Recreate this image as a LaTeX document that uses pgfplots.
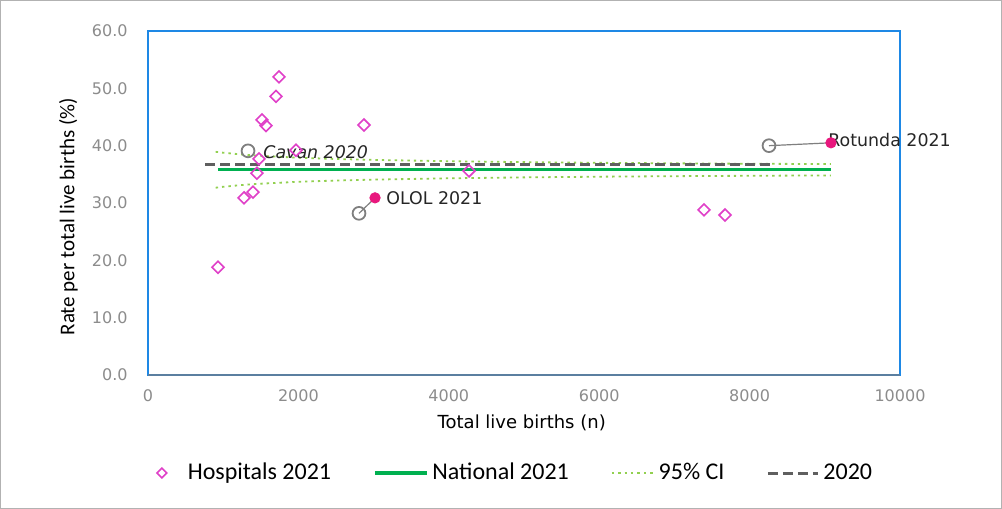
\documentclass[border=0pt]{standalone}
\usepackage{pgfplots}
\pgfplotsset{compat=1.18}
\usepackage{fontspec}
\setmainfont{Carlito}
\newfontfamily\dv{DejaVu Sans}
\definecolor{hosp}{HTML}{E040C8}
\definecolor{natg}{HTML}{00B050}
\definecolor{cig}{HTML}{92D050}
\definecolor{old}{HTML}{7F7F7F}
\definecolor{olddash}{HTML}{5F5F5F}
\definecolor{hl}{HTML}{E8177D}
\definecolor{frame}{HTML}{1E88E5}
\definecolor{bottomline}{HTML}{5B7FA0}
\definecolor{ticklab}{HTML}{8C8C8C}
\pgfplotsset{
  markleg/.style={legend image code/.code={\path[draw=none,fill=none] (-4pt,-3pt) rectangle (11pt,3pt); \draw[mark repeat=1,##1] plot coordinates {(0pt,0pt)};}},
  lineleg/.style={legend image code/.code={\draw[##1] (0pt,0pt) -- (#1,0pt);}},
}
\begin{document}
\begin{tikzpicture}
\draw[draw=black!30, fill=white, line width=0.6pt] (0.3pt,0.3pt) rectangle (500.7pt,254.2pt);
\begin{axis}[
 at={(74pt,67pt)}, anchor=south west,
 width=376pt, height=172pt, scale only axis,
 xmin=0, xmax=10000, ymin=0, ymax=60,
 scaled x ticks=false, scaled y ticks=false,
 xtick={0,2000,4000,6000,8000,10000},
 xticklabels={0,2000,4000,6000,8000,10000},
 ytick={0,10,20,30,40,50,60},
 yticklabels={0.0,10.0,20.0,30.0,40.0,50.0,60.0},
 major tick length=0pt,
 axis line style={draw=frame, line width=1.1pt},
 tick label style={font=\dv\fontsize{8}{9}\selectfont, text=ticklab},
 xticklabel style={anchor=north, inner sep=0pt, yshift=-7pt},
 yticklabel style={anchor=east, inner sep=0pt, xshift=-10pt},
 xlabel={Total live births (n)},
 xlabel style={font=\dv\fontsize{9}{10}\selectfont, at={(axis description cs:0.497,-0.14)}, anchor=center},
 ylabel={Rate per total live births (\%)},
 ylabel style={font=\fontsize{10.5}{12}\selectfont, at={(axis description cs:-0.106,0.46)}, anchor=center},
 legend columns=4,
 legend style={draw=none, fill=none, at={(axis description cs:0.488,-0.285)}, anchor=center,
   font=\fontsize{12}{13}\selectfont,
   /tikz/every even column/.append style={column sep=19pt}},
 clip=false,
]
\addlegendimage{only marks, mark=square, mark size=1.7pt, draw=hosp, mark options={line width=0.8pt, fill=white, rotate=45}, markleg}
\addlegendimage{natg, line width=1.6pt, lineleg=26pt}
\addlegendimage{cig, line width=0.9pt, dash pattern=on 1.2pt off 2pt, lineleg=21pt}
\addlegendimage{olddash, line width=1.5pt, dash pattern=on 5pt off 2.5pt, lineleg=25pt}
\legend{Hospitals 2021, National 2021, 95\% CI, 2020}

% 95% CI
\addplot[cig, line width=0.9pt, dash pattern=on 1.2pt off 2pt, forget plot] coordinates {
(900,38.93) (1000,38.77) (1250,38.46) (1500,38.23) (2000,37.90) (2500,37.68) (3000,37.52)
(4000,37.29) (5000,37.13) (6000,37.01) (7000,36.92) (8000,36.85) (9080,36.79)};
\addplot[cig, line width=0.9pt, dash pattern=on 1.2pt off 2pt, forget plot] coordinates {
(900,32.67) (1000,32.83) (1250,33.14) (1500,33.37) (2000,33.70) (2500,33.92) (3000,34.08)
(4000,34.31) (5000,34.47) (6000,34.59) (7000,34.68) (8000,34.75) (9080,34.81)};
% 2020
\addplot[olddash, line width=1.5pt, dash pattern=on 5pt off 2.5pt, forget plot] coordinates {(760,36.8) (8300,36.8)};
% National 2021
\addplot[natg, line width=1.6pt, forget plot] coordinates {(930,35.8) (9080,35.8)};
% connectors
\addplot[old, line width=0.6pt, forget plot] coordinates {(2806,28.2) (3019,30.9)};
\addplot[old, line width=0.6pt, forget plot] coordinates {(8258,40.0) (9082,40.5)};
% Hospitals 2021
\addplot[only marks, mark=square, mark size=2.1pt, draw=hosp, mark options={line width=0.8pt, fill=white, rotate=45}, forget plot] coordinates {
(931,18.8) (1277,30.9) (1396,31.9) (1449,35.2) (1476,37.7) (1516,44.5) (1569,43.5)
(1702,48.6) (1742,52.0) (1968,39.2) (2872,43.6) (4269,35.6) (7394,28.8) (7673,27.9)};
% 2020 highlighted
\addplot[only marks, mark=o, mark size=3.2pt, old, mark options={line width=0.9pt}, forget plot] coordinates {
(1330,39.1) (2806,28.2) (8258,40.0)};
% 2021 highlighted
\addplot[only marks, mark=*, mark size=2.6pt, hl, forget plot] coordinates {(3019,30.9) (9082,40.5)};

\node[anchor=west, font=\dv\fontsize{8.7}{10}\selectfont, text=black!85, inner sep=0pt, xshift=-1.5pt, yshift=1.5pt] at (axis cs:9082,40.5) {Rotunda 2021};
\node[anchor=west, font=\dv\fontsize{8.7}{10}\selectfont, text=black!85, inner sep=0pt, xshift=5.5pt] at (axis cs:3019,30.9) {OLOL 2021};
\node[anchor=west, font=\dv\itshape\fontsize{8.7}{10}\selectfont, text=black!85, inner sep=0pt, xshift=7.5pt, yshift=-0.5pt] at (axis cs:1330,39.1) {Cavan 2020};

\draw[bottomline, line width=1.1pt] (rel axis cs:0,0) -- (rel axis cs:1,0);
\end{axis}
\end{tikzpicture}
\end{document}
